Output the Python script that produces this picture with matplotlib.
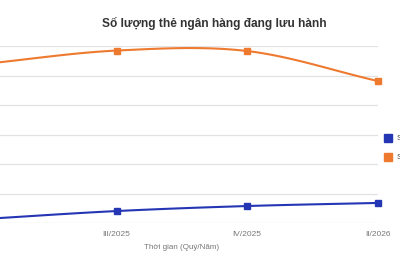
import numpy as np
import matplotlib
matplotlib.use("Agg")
import matplotlib.pyplot as plt

plt.rcParams['font.family'] = ['Liberation Sans', 'DejaVu Sans']

# du lieu (trieu the, uoc luong tu hinh)
quarters = ["II/2025", "III/2025", "IV/2025", "II/2026"]
tin_dung = [2.8, 8.1, 11.5, 13.6]
ghi_no = [108.0, 116.9, 116.6, 96.3]
series_names = ["Số lượng thẻ tín dụng", "Số lượng thẻ ghi nợ"]

blue = "#2536b5"
orange = "#ee7a30"


def smooth(xs, ys, n=40):
    """duong cong muot qua cac diem (catmull-rom)"""
    xs = np.asarray(xs, float)
    ys = np.asarray(ys, float)
    px = np.concatenate([[2 * xs[0] - xs[1]], xs, [2 * xs[-1] - xs[-2]]])
    py = np.concatenate([[2 * ys[0] - ys[1]], ys, [2 * ys[-1] - ys[-2]]])
    out_x, out_y = [], []
    for i in range(1, len(px) - 2):
        t = np.linspace(0, 1, n)
        for arr, out in ((px, out_x), (py, out_y)):
            p0, p1, p2, p3 = arr[i - 1], arr[i], arr[i + 1], arr[i + 2]
            out.extend(0.5 * ((2 * p1) + (-p0 + p2) * t
                              + (2 * p0 - 5 * p1 + 4 * p2 - p3) * t ** 2
                              + (-p0 + 3 * p1 - 3 * p2 + p3) * t ** 3))
    return out_x, out_y


fig = plt.figure(figsize=(4, 2.66), dpi=100)
ax = fig.add_axes([-14 / 400, 43 / 266, 391.5 / 400, 177 / 266])

x = np.arange(len(quarters))
for vals, col in ((ghi_no, orange), (tin_dung, blue)):
    sx, sy = smooth(x, vals)
    ax.plot(sx, sy, color=col, lw=1.5, clip_on=False, zorder=3)
    ax.plot(x, vals, ls="none", marker="s", ms=4.2, color=col, clip_on=False, zorder=4)

ax.set_xlim(0, 3)
ax.set_ylim(0, 120)
ax.set_yticks(np.arange(0, 121, 20))
ax.set_yticklabels([])
ax.grid(axis="y", color="#e2e2e2", lw=0.9)
ax.set_axisbelow(True)
for s in ax.spines.values():
    s.set_visible(False)
ax.set_xticks(x)
ax.set_xticklabels(quarters, fontsize=6.0, color="#777777")
ax.tick_params(length=0, pad=6)
ax.tick_params(axis="y", length=0)
ax.set_xlabel("Thời gian (Quý/Năm)", fontsize=5.8, color="#777777", labelpad=4)
ax.xaxis.set_label_coords((182 + 14) / 391.5, -21 / 177)

fig.text(214 / 400, 1 - 23 / 266, "Số lượng thẻ ngân hàng đang lưu hành",
         ha="center", va="center", fontsize=8.6, fontweight="bold", color="#333333")

# chu giai (bi cat o mep phai)
for i, (name, col) in enumerate(zip(series_names, [blue, orange])):
    yy = 1 - (138 + i * 19) / 266
    fig.patches.append(plt.Rectangle((384 / 400, yy - 4 / 266), 8 / 400, 8 / 266,
                                     color=col, transform=fig.transFigure, figure=fig))
    fig.text(397 / 400, yy, name, fontsize=6.0, color="#444444", va="center")

fig.savefig("out.png", dpi=100)
